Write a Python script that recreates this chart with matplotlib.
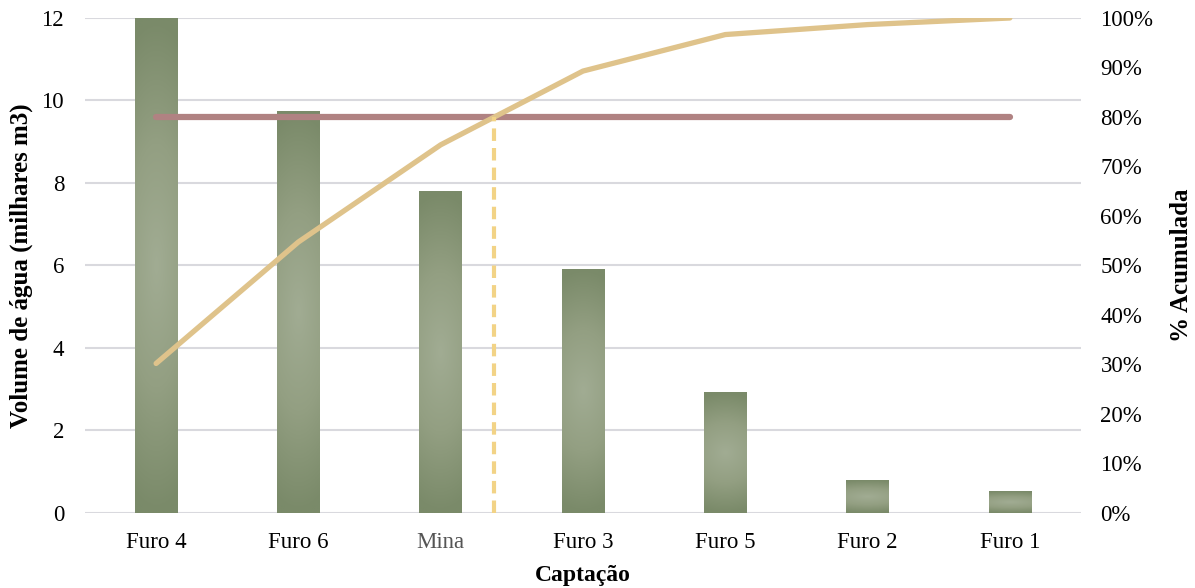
import numpy as np
import matplotlib
matplotlib.use('Agg')

import matplotlib.pyplot as plt
from matplotlib.colors import LinearSegmentedColormap
from matplotlib.ticker import FuncFormatter

plt.rcParams['font.family'] = ['Liberation Serif', 'DejaVu Serif']

captacoes = ['Furo 4', 'Furo 6', 'Mina', 'Furo 3', 'Furo 5', 'Furo 2', 'Furo 1']
volumes = [12.0, 9.75, 7.8, 5.92, 2.93, 0.8, 0.53]
limite = 0.80

volumes = np.array(volumes)
acumulada = np.cumsum(volumes) / volumes.sum()
x = np.arange(len(captacoes))

# x position where the cumulative curve crosses the limit
k = np.searchsorted(acumulada, limite)
xcorte = x[k - 1] + (limite - acumulada[k - 1]) / (acumulada[k] - acumulada[k - 1])

fig = plt.figure(figsize=(11.95, 5.88), dpi=100)
ax = fig.add_axes([0.0711, 0.1276, 0.8335, 0.8418])
ax2 = ax.twinx()

barColors = LinearSegmentedColormap.from_list('verde', ['#a1ac93', '#939f82', '#7a8a69'])
width = 0.3
u = np.linspace(-1, 1, 80)
uu, vv = np.meshgrid(u, u)
grad = np.clip(np.sqrt(0.12 * uu**2 + vv**2), 0, 1)

for xi, h in zip(x, volumes):
    bar = ax.bar(xi, h, width=width, color='none', zorder=2)[0]
    im = ax.imshow(grad, cmap=barColors, vmin=0, vmax=1, aspect='auto',
                   extent=[xi - width / 2, xi + width / 2, 0, h], zorder=2,
                   interpolation='bilinear')
    im.set_clip_path(bar)

ax.set_xlim(-0.5, len(captacoes) - 0.5)
ax.set_ylim(0, 12)
ax.set_yticks(np.arange(0, 13, 2))
ax.grid(axis='y', color='#d9d9de', linewidth=1.5, zorder=0)
ax.set_axisbelow(True)
ax.set_xticks(x)
ax.set_xticklabels(captacoes)
ax.get_xticklabels()[2].set_color('#555555')
ax.tick_params(axis='x', length=0, labelsize=16.5, pad=14)
ax.tick_params(axis='y', length=0, labelsize=16.5, pad=15)
ax.set_ylabel('Volume de água (milhares m3)', fontsize=18, fontweight='bold', labelpad=6)
ax.set_xlabel('Captação', fontsize=17, fontweight='bold', labelpad=8)

ax2.set_ylim(0, 1)
ax2.set_yticks(np.linspace(0, 1, 11))
ax2.yaxis.set_major_formatter(FuncFormatter(lambda v, p: '%d%%' % round(v * 100)))
ax2.tick_params(axis='y', length=0, labelsize=16.5, pad=14)
ax2.set_ylabel('% Acumulada', fontsize=18, fontweight='bold', labelpad=12)

ax2.plot([x[0], x[-1]], [limite, limite], color='#b08282', linewidth=4.5,
         solid_capstyle='round', zorder=3)
ax2.plot(x, acumulada, color='#dfc38b', linewidth=3.8, solid_capstyle='round',
         solid_joinstyle='round', zorder=4)
ax2.plot([xcorte, xcorte], [0, limite], color='#f2d386', linewidth=3,
         dashes=(3, 1.7), zorder=4)

for a in (ax, ax2):
    for s in a.spines.values():
        s.set_visible(False)

fig.savefig('out.png', dpi=100)
